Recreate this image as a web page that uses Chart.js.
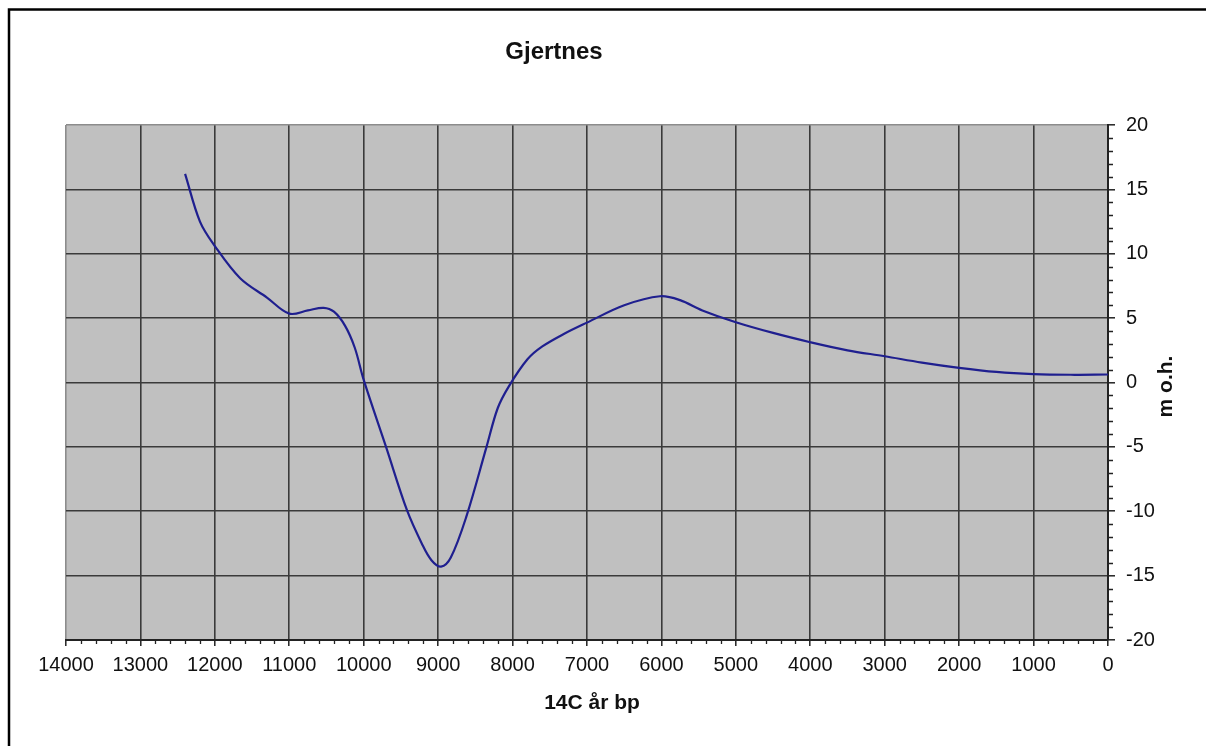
<!DOCTYPE html>
<html>
<head>
<meta charset="utf-8">
<script src="https://cdn.jsdelivr.net/npm/chart.js@4.4.1/dist/chart.umd.min.js"></script>
<style>
  html, body { margin: 0; padding: 0; background: #ffffff; }
  #wrap { width: 1206px; height: 746px; position: relative; }
</style>
</head>
<body>
<div id="wrap"><canvas id="c" width="1206" height="746"></canvas></div>
<script>
// ---- data ----
const chartTitle = "Gjertnes";
const xTitle = "14C år bp";
const yTitle = "m o.h.";
const years = [12400, 12200, 12000, 11660, 11300, 11000, 10750, 10540, 10400, 10250, 10120, 10000,
               9700, 9420, 9220, 9090, 8960, 8830, 8620, 8350, 8200, 8050, 7800, 7600, 7300, 7000,
               6500, 6020, 5750, 5450, 5000, 4500, 4000, 3500, 3000, 2500, 2000, 1500, 1000, 500, 0];
const levels = [16.2, 12.5, 10.6, 8.1, 6.6, 5.35, 5.6, 5.8, 5.5, 4.4, 2.7, 0.2,
                -5.0, -9.9, -12.5, -13.8, -14.3, -13.6, -10.4, -5.0, -2.0, -0.3, 1.8, 2.8, 3.8, 4.65,
                6.0, 6.7, 6.4, 5.6, 4.68, 3.85, 3.13, 2.5, 2.04, 1.55, 1.14, 0.82, 0.65, 0.6, 0.62];
const xTicks = [0, 1000, 2000, 3000, 4000, 5000, 6000, 7000, 8000, 9000, 10000, 11000, 12000, 13000, 14000];
const yTicks = [-20, -15, -10, -5, 0, 5, 10, 15, 20];

const points = years.map((x, i) => ({x: x, y: levels[i]}));
const FONT = "'Liberation Sans', Arial, sans-serif";

const decor = {
  id: 'decor',
  beforeDraw(chart) {
    const {ctx, chartArea: a} = chart;
    ctx.save();
    ctx.fillStyle = '#c0c0c0';
    ctx.fillRect(a.left, a.top, a.right - a.left, a.bottom - a.top);
    ctx.restore();
  },
  afterDraw(chart) {
    const {ctx, chartArea: a} = chart;
    const xs = chart.scales.x, ys = chart.scales.y;
    ctx.save();
    // minor ticks
    ctx.strokeStyle = '#222';
    ctx.lineWidth = 1.3;
    ctx.beginPath();
    for (let v = xs.min + 200; v < xs.max; v += 200) {
      if (v % 1000 === 0) continue;
      const px = Math.round(xs.getPixelForValue(v)) + 0.5;
      ctx.moveTo(px, a.bottom);
      ctx.lineTo(px, a.bottom + 4);
    }
    for (let v = ys.min + 1; v < ys.max; v += 1) {
      if (v % 5 === 0) continue;
      const py = Math.round(ys.getPixelForValue(v)) + 0.5;
      ctx.moveTo(a.right, py);
      ctx.lineTo(a.right + 5, py);
    }
    ctx.stroke();
    // outer frame (left and top visible)
    ctx.strokeStyle = '#000';
    ctx.lineWidth = 2.5;
    ctx.strokeRect(9, 9.5, 1400, 1000);
    // titles
    ctx.fillStyle = '#111';
    ctx.textAlign = 'center';
    ctx.textBaseline = 'middle';
    ctx.font = "bold 24px " + FONT;
    ctx.fillText(chartTitle, (a.left + a.right) / 2 - 33, 52);
    ctx.font = "bold 21px " + FONT;
    ctx.fillText(xTitle, (a.left + a.right) / 2 + 5, 703);
    ctx.translate(a.right + 58, (a.top + a.bottom) / 2 + 4);
    ctx.rotate(-Math.PI / 2);
    ctx.fillText(yTitle, 0, 0);
    ctx.restore();
  }
};

new Chart(document.getElementById('c'), {
  type: 'scatter',
  data: {
    datasets: [{
      data: points,
      showLine: true,
      borderColor: '#1f1f8f',
      borderWidth: 2.2,
      pointRadius: 0,
      pointHoverRadius: 0,
      tension: 0.35,
      fill: false
    }]
  },
  options: {
    responsive: false,
    animation: false,
    events: [],
    layout: { padding: { left: 66, top: 125, right: 0, bottom: 0 } },
    plugins: { legend: { display: false }, tooltip: { enabled: false }, title: { display: false } },
    scales: {
      x: {
        type: 'linear',
        reverse: true,
        min: 0, max: 14000,
        afterBuildTicks(scale) { scale.ticks = xTicks.map(v => ({value: v})); },
        afterFit(scale) { scale.height = 106; },
        ticks: {
          autoSkip: false, maxRotation: 0, minRotation: 0,
          padding: 7,
          color: '#111',
          font: { family: FONT, size: 20 },
          callback: (v) => String(v)
        },
        grid: {
          color: (c) => (c.tick && c.tick.value === 14000) ? '#8c8c8c' : '#3a3a3a',
          lineWidth: 1.6,
          tickLength: 6,
          tickColor: '#222',
          tickWidth: 1.5
        },
        border: { display: true, color: '#222', width: 2 }
      },
      y: {
        type: 'linear',
        position: 'right',
        min: -20, max: 20,
        afterBuildTicks(scale) { scale.ticks = yTicks.map(v => ({value: v})); },
        afterFit(scale) { scale.width = 98; },
        ticks: {
          padding: 11,
          color: '#111',
          font: { family: FONT, size: 20 },
          callback: (v) => String(v)
        },
        grid: {
          color: (c) => (c.tick && c.tick.value === 20) ? '#8c8c8c' : '#3a3a3a',
          lineWidth: 1.6,
          tickLength: 7,
          tickColor: '#222',
          tickWidth: 1.5
        },
        border: { display: true, color: '#222', width: 2 }
      }
    }
  },
  plugins: [decor]
});
</script>
</body>
</html>
